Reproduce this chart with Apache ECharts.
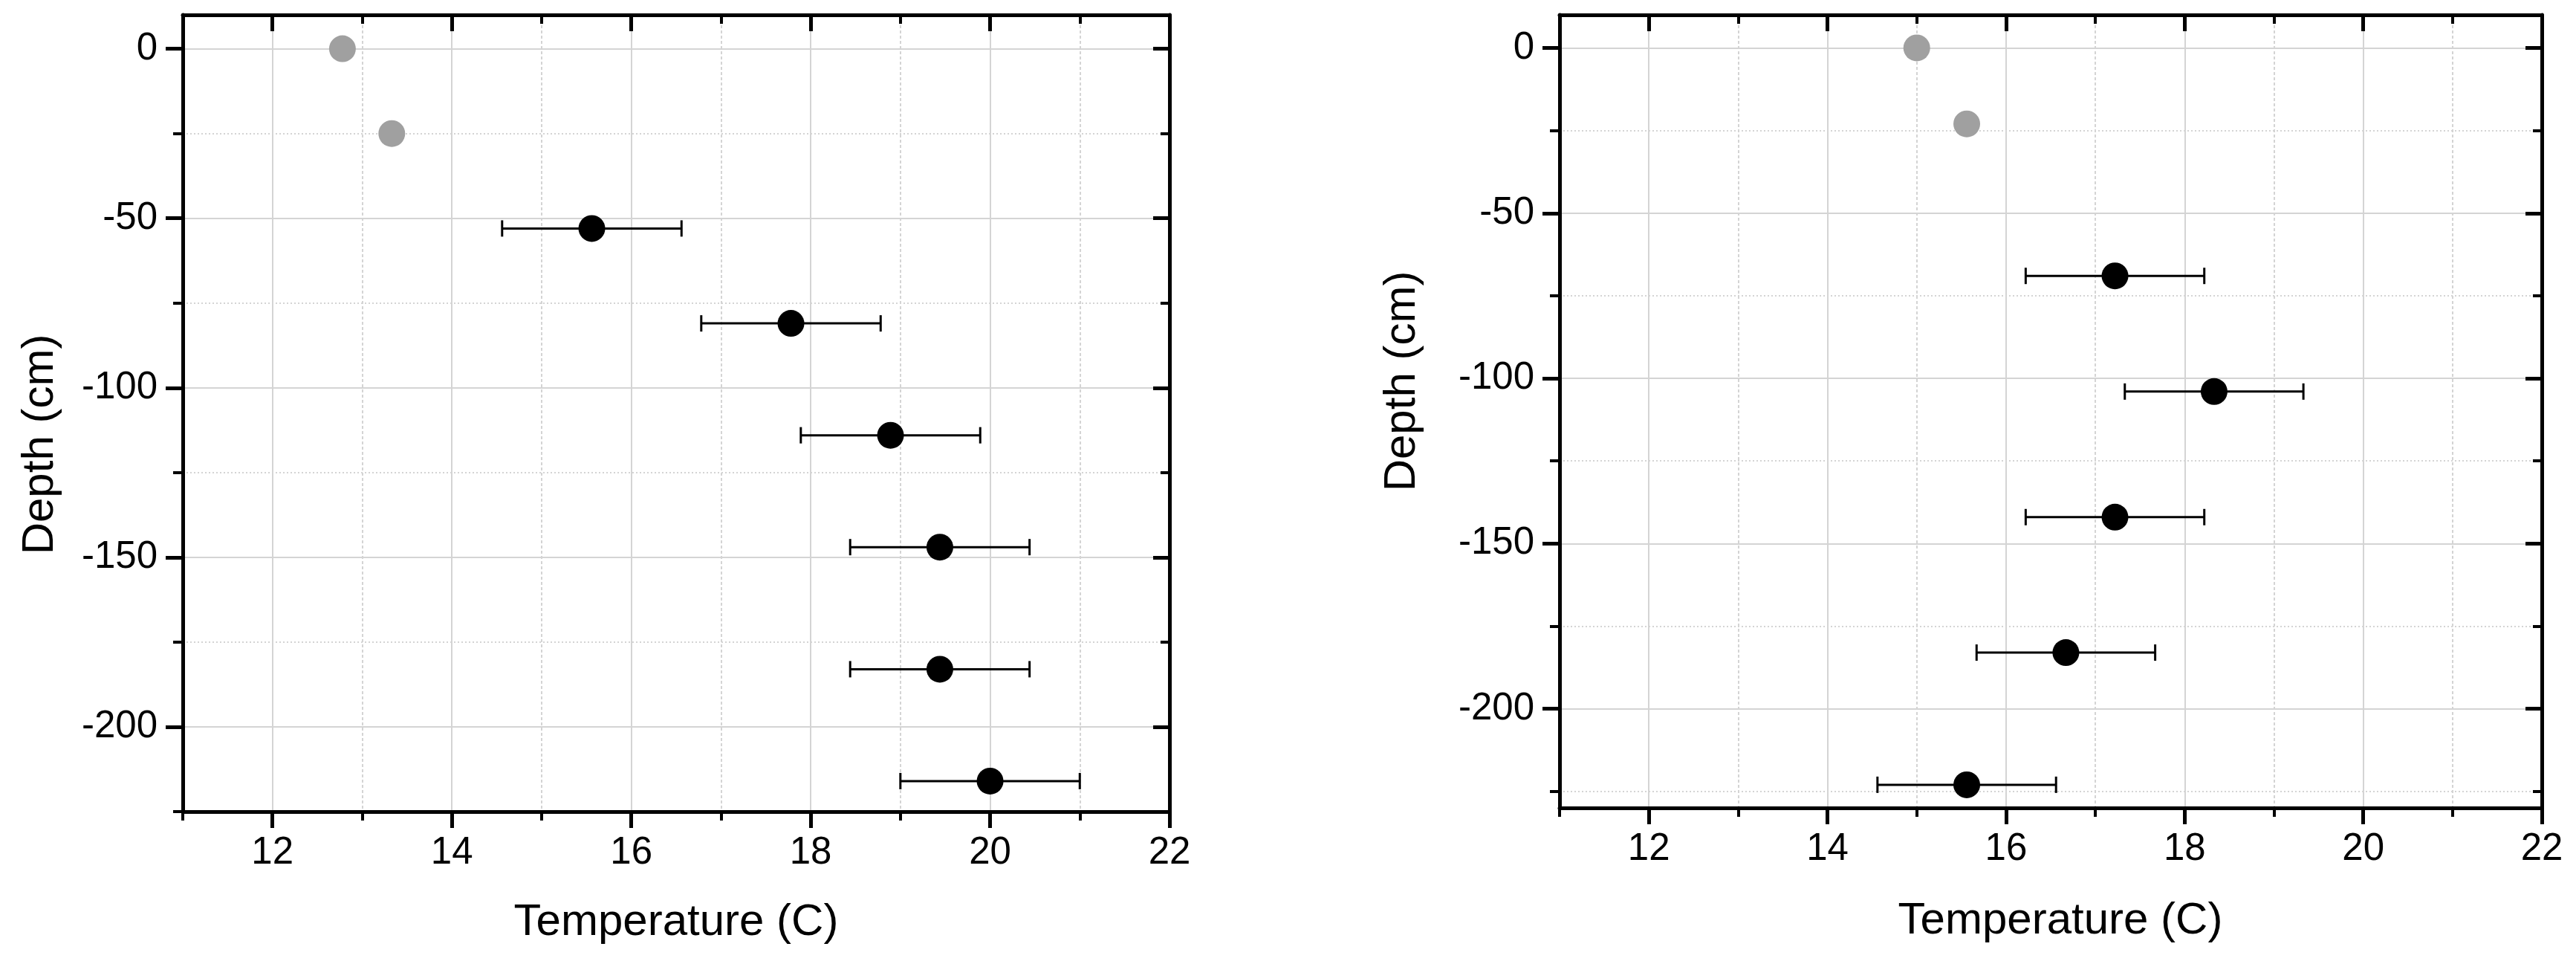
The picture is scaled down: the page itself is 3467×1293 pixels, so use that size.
<!DOCTYPE html>
<html>
<head>
<meta charset="utf-8">
<script src="https://cdn.jsdelivr.net/npm/echarts@6/dist/echarts.min.js"></script>
<style>
  html, body { margin: 0; padding: 0; background: #fff; }
  #chart { width: 3467px; height: 1293px; }
</style>
</head>
<body>
<div id="chart"></div>
<script>
// ticks
var xMajor = [12, 14, 16, 18, 20, 22];
var xMinor = [11, 13, 15, 17, 19, 21];
var yMajor = [0, -50, -100, -150, -200];
var yMinor = [-25, -75, -125, -175, -225];

// left profile
var leftGrayTemp = [12.78, 13.33];
var leftGrayDepth = [0, -25];
var leftTemp = [15.56, 17.78, 18.89, 19.44, 19.44, 20.0];
var leftDepth = [-53, -81, -114, -147, -183, -216];
var leftErr = [1, 1, 1, 1, 1, 1];

// right profile
var rightGrayTemp = [15.0, 15.56];
var rightGrayDepth = [0, -23];
var rightTemp = [17.22, 18.33, 17.22, 16.67, 15.56];
var rightDepth = [-69, -104, -142, -183, -223];
var rightErr = [1, 1, 1, 1, 1];

var FONT = "'Liberation Sans', Arial, sans-serif";
var GRID_COLOR = '#d4d4d4';

function pairs(xs, ys) {
    var out = [];
    for (var i = 0; i < xs.length; i++) out.push([xs[i], ys[i]]);
    return out;
}
function errData(xs, ys, es) {
    var out = [];
    for (var i = 0; i < xs.length; i++) out.push([xs[i] - es[i], xs[i] + es[i], ys[i]]);
    return out;
}

// one axis layer: ticks / line / labels / split lines, all on the same scale
function axisLayer(dim, gi, range, cfg) {
    var a = {
        type: 'value', gridIndex: gi, min: range[0], max: range[1], interval: range[2],
        position: cfg.position, z: cfg.z || 3,
        axisLine: { show: !!cfg.line, onZero: false, lineStyle: { color: '#000', width: 5 } },
        axisTick: { show: !!cfg.ticks, inside: !!cfg.inside, length: cfg.len || 0,
            customValues: cfg.ticks || cfg.split, lineStyle: { color: '#000', width: cfg.tw || 5 } },
        axisLabel: { show: false },
        splitLine: { show: false }
    };
    if (cfg.labels) {
        a.axisLabel = { show: true, customValues: cfg.labels, margin: cfg.margin,
            color: '#000', fontSize: 51, fontFamily: FONT };
    }
    if (cfg.split) {
        a.axisTick.show = false;
        a.splitLine = { show: true, lineStyle: { color: GRID_COLOR, width: 2, type: cfg.dash || 'solid' } };
    }
    if (cfg.name) {
        a.name = cfg.name;
        a.nameLocation = 'middle';
        a.nameGap = cfg.nameGap;
        a.nameTextStyle = { color: '#000', fontSize: 60, fontFamily: FONT, padding: cfg.namePad || 0 };
    }
    return a;
}

function xAxesFor(gi, nameGap, namePad) {
    var r = [11, 22, 1];
    return [
        axisLayer('x', gi, r, { position: 'bottom', line: true, ticks: xMajor, len: 22, labels: xMajor, margin: 30,
            name: 'Temperature (C)', nameGap: nameGap, namePad: namePad }),
        axisLayer('x', gi, r, { position: 'bottom', ticks: xMinor, len: 12, tw: 4 }),
        axisLayer('x', gi, r, { position: 'top', line: true, ticks: xMajor, len: 22, inside: true }),
        axisLayer('x', gi, r, { position: 'top', ticks: xMinor, len: 12, tw: 4, inside: true }),
        axisLayer('x', gi, r, { position: 'bottom', split: xMajor, z: 1 }),
        axisLayer('x', gi, r, { position: 'bottom', split: xMinor, dash: [4, 3], z: 1 })
    ];
}

function yAxesFor(gi, r) {
    return [
        axisLayer('y', gi, r, { position: 'left', line: true, ticks: yMajor, len: 23, labels: yMajor, margin: 34 }),
        axisLayer('y', gi, r, { position: 'left', ticks: yMinor, len: 13, tw: 4 }),
        axisLayer('y', gi, r, { position: 'right', line: true, ticks: yMajor, len: 22, inside: true }),
        axisLayer('y', gi, r, { position: 'right', ticks: yMinor, len: 12, tw: 4, inside: true }),
        axisLayer('y', gi, r, { position: 'left', split: yMajor, z: 1 }),
        axisLayer('y', gi, r, { position: 'left', split: yMinor, dash: [2, 3], z: 1 })
    ];
}

function renderErr(params, api) {
    var y = api.value(2);
    var a = api.coord([api.value(0), y]);
    var b = api.coord([api.value(1), y]);
    var h = 11;
    var st = { stroke: '#000', lineWidth: 3 };
    return {
        type: 'group',
        children: [
            { type: 'line', shape: { x1: a[0], y1: a[1], x2: b[0], y2: b[1] }, style: st },
            { type: 'line', shape: { x1: a[0], y1: a[1] - h, x2: a[0], y2: a[1] + h }, style: st },
            { type: 'line', shape: { x1: b[0], y1: b[1] - h, x2: b[0], y2: b[1] + h }, style: st }
        ]
    };
}

function seriesFor(axisIdx, temp, depth, err, grayTemp, grayDepth) {
    return [
        { type: 'custom', xAxisIndex: axisIdx, yAxisIndex: axisIdx, renderItem: renderErr,
          encode: { x: [0, 1], y: 2 }, data: errData(temp, depth, err), z: 4 },
        { type: 'scatter', xAxisIndex: axisIdx, yAxisIndex: axisIdx, symbolSize: 36,
          itemStyle: { color: '#000', opacity: 1 }, data: pairs(temp, depth), z: 5 },
        { type: 'scatter', xAxisIndex: axisIdx, yAxisIndex: axisIdx, symbolSize: 36,
          itemStyle: { color: '#a0a0a0', opacity: 1 }, data: pairs(grayTemp, grayDepth), z: 5 }
    ];
}

var chart = echarts.init(document.getElementById('chart'), null, { renderer: 'canvas' });

var option = {
    animation: false,
    backgroundColor: '#fff',
    grid: [
        { left: 246, top: 20, width: 1328, height: 1072, containLabel: false, outerBoundsMode: 'none' },
        { left: 2099, top: 20, width: 1322, height: 1067, containLabel: false, outerBoundsMode: 'none' }
    ],
    xAxis: xAxesFor(0, 119, 0).concat(xAxesFor(1, 122, [0, 0, 0, 26])),
    yAxis: yAxesFor(0, [-225, 10, 25]).concat(yAxesFor(1, [-230, 10, 10])),
    graphic: [
        { type: 'text', x: 54, y: 598, rotation: Math.PI / 2, z: 10,
          style: { text: 'Depth (cm)', font: '60px ' + FONT, fill: '#000',
                   align: 'center', verticalAlign: 'middle', textAlign: 'center', textVerticalAlign: 'middle' } },
        { type: 'text', x: 1887, y: 513, rotation: Math.PI / 2, z: 10,
          style: { text: 'Depth (cm)', font: '60px ' + FONT, fill: '#000',
                   align: 'center', verticalAlign: 'middle', textAlign: 'center', textVerticalAlign: 'middle' } }
    ],
    series: seriesFor(0, leftTemp, leftDepth, leftErr, leftGrayTemp, leftGrayDepth)
        .concat(seriesFor(6, rightTemp, rightDepth, rightErr, rightGrayTemp, rightGrayDepth))
};

chart.setOption(option);
</script>
</body>
</html>
